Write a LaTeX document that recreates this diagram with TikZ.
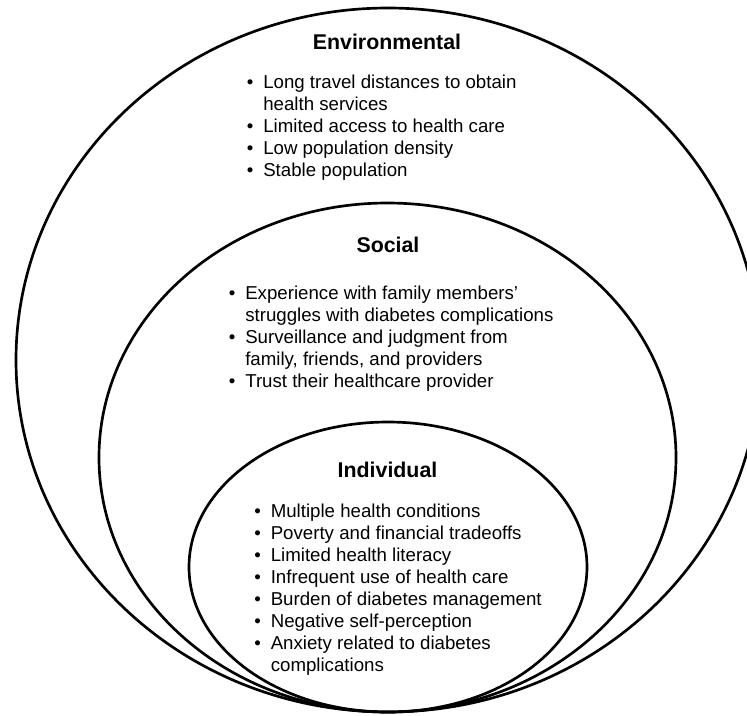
\documentclass[tikz,border=0pt]{standalone}
\usepackage{fontspec}
\setmainfont{Liberation Sans}
\usetikzlibrary{positioning}

\begin{document}
\begin{tikzpicture}[x=0.75pt, y=-0.75pt,
    ring/.style={line width=2pt},
    leveltitle/.style={font=\fontsize{16}{19}\selectfont\bfseries, anchor=base, inner sep=0pt},
    factorlist/.style={font=\fontsize{14}{16.5}\selectfont, anchor=base west, inner sep=0pt}]
    \useasboundingbox (0,0) rectangle (747,715);
    \clip (0,0) rectangle (747,715);

    % Nested levels, all touching at the bottom
    \draw[ring] (388,360) ellipse [x radius=372, y radius=352];
    \draw[ring] (387.5,457.5) ellipse [x radius=288.5, y radius=254.5];
    \draw[ring] (388,567) ellipse [x radius=199, y radius=145];

    % Environmental
    \node[leveltitle] (envtitle) at (387,49) {Environmental};
    \node[factorlist] (envlist) at (246.5,88) {\begin{tabular}[t]{@{}l@{\hspace{7.5pt}}l@{}}
        \textbullet & Long travel distances to obtain\\
                    & health services\\
        \textbullet & Limited access to health care\\
        \textbullet & Low population density\\
        \textbullet & Stable population
    \end{tabular}};

    % Social
    \node[leveltitle] (soctitle) at (388,252) {Social};
    \node[factorlist] (soclist) at (228.5,299) {\begin{tabular}[t]{@{}l@{\hspace{7.5pt}}l@{}}
        \textbullet & Experience with family members’\\
                    & struggles with diabetes complications\\
        \textbullet & Surveillance and judgment from\\
                    & family, friends, and providers\\
        \textbullet & Trust their healthcare provider
    \end{tabular}};

    % Individual
    \node[leveltitle] (indtitle) at (387.5,477) {Individual};
    \node[factorlist] (indlist) at (254,517) {\begin{tabular}[t]{@{}l@{\hspace{7.5pt}}l@{}}
        \textbullet & Multiple health conditions\\
        \textbullet & Poverty and financial tradeoffs\\
        \textbullet & Limited health literacy\\
        \textbullet & Infrequent use of health care\\
        \textbullet & Burden of diabetes management\\
        \textbullet & Negative self-perception\\
        \textbullet & Anxiety related to diabetes\\
                    & complications
    \end{tabular}};
\end{tikzpicture}
\end{document}
